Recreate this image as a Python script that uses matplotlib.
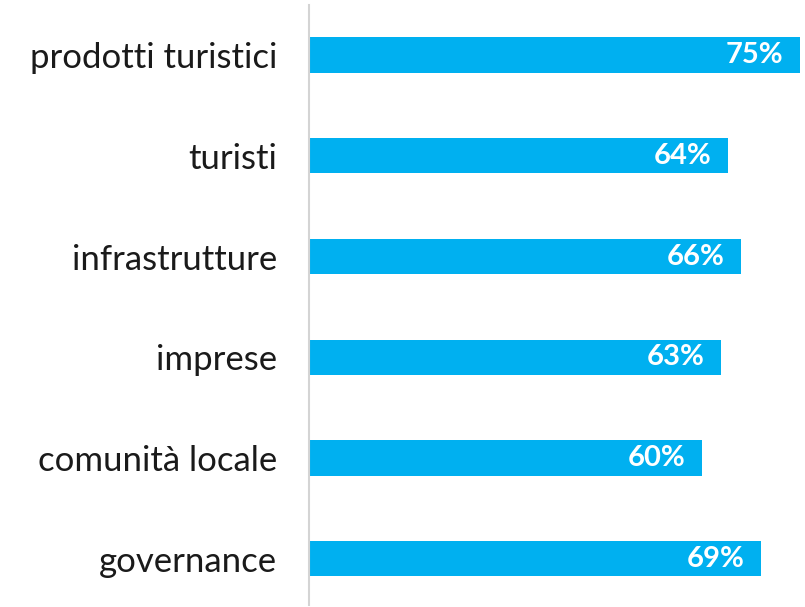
import matplotlib
matplotlib.use("Agg")
import matplotlib.pyplot as plt

plt.rcParams['font.family'] = ['Lato', 'DejaVu Sans']

categories = ["prodotti turistici", "turisti", "infrastrutture",
              "imprese", "comunità locale", "governance"]
values = [75, 64, 66, 63, 60, 69]

fig = plt.figure(figsize=(8.05, 6.07), dpi=100)
ax = fig.add_axes([309/805, 1 - 605/607, (800 - 309)/805, 600/607])

y = list(range(len(categories)))
ax.barh(y, values, height=0.35, color='#00B0F0')

for yi, v in zip(y, values):
    ax.text(v - 2.5, yi, f"{v}%", color='white', fontsize=21, fontweight='bold',
            ha='right', va='center')

ax.set_xlim(0, 75)
ax.set_ylim(5.46, -0.497)
ax.set_yticks(y)
ax.set_yticklabels(categories, fontsize=25, color='#1a1a1a')
ax.tick_params(axis='y', length=0, pad=23)
ax.set_xticks([])

for s in ['top', 'right', 'bottom']:
    ax.spines[s].set_visible(False)
ax.spines['left'].set_color('#d4d4d4')
ax.spines['left'].set_linewidth(1.5)

fig.savefig("out.png", dpi=100)
